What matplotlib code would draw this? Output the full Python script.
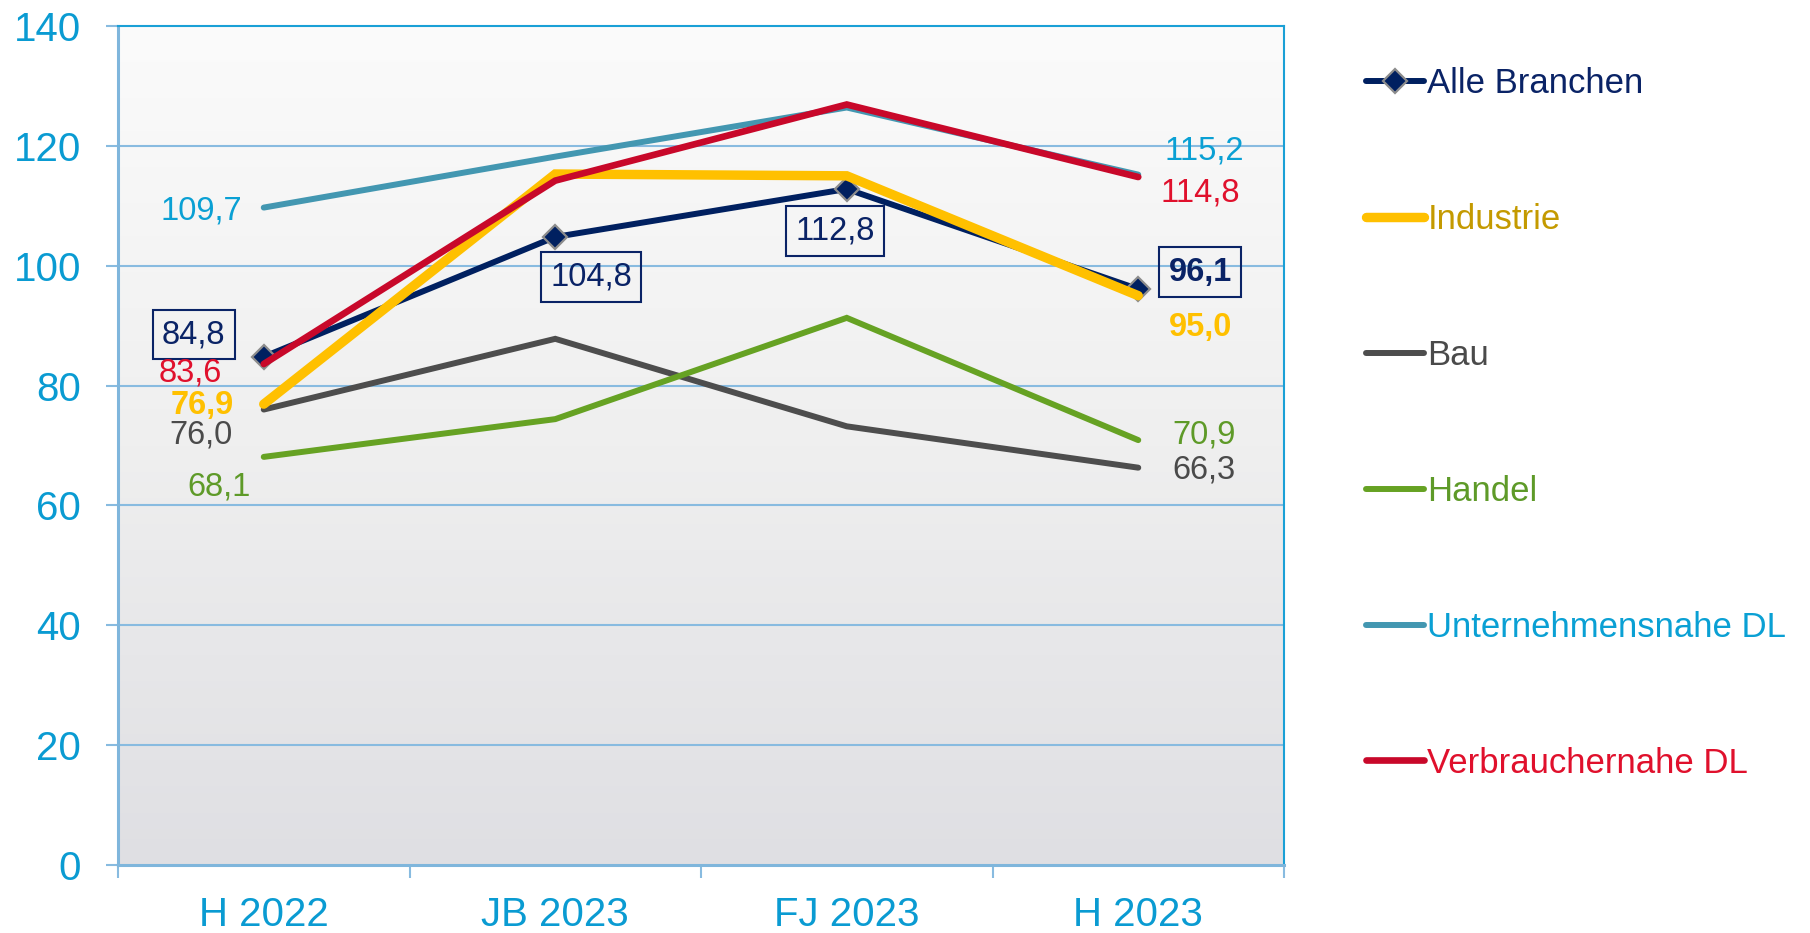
import numpy as np
import matplotlib
matplotlib.use("Agg")
import matplotlib.pyplot as plt
from matplotlib.colors import LinearSegmentedColormap

plt.rcParams['font.family'] = ['Liberation Sans', 'DejaVu Sans']

categories = ["H 2022", "JB 2023", "FJ 2023", "H 2023"]
series_names = ["Alle Branchen", "Industrie", "Bau", "Handel",
                "Unternehmensnahe DL", "Verbrauchernahe DL"]
alle_branchen = [84.8, 104.8, 112.8, 96.1]
industrie = [76.9, 115.3, 115.0, 95.0]
bau = [76.0, 87.8, 73.2, 66.3]
handel = [68.1, 74.4, 91.3, 70.9]
unternehmensnahe = [109.7, 118.2, 126.4, 115.2]
verbrauchernahe = [83.6, 114.2, 126.9, 114.8]
y_ticks = [0, 20, 40, 60, 80, 100, 120, 140]

line_colors = {
    "Alle Branchen": "#002060",
    "Industrie": "#FFC000",
    "Bau": "#4D4D4D",
    "Handel": "#66A223",
    "Unternehmensnahe DL": "#4397B1",
    "Verbrauchernahe DL": "#C8082A",
}
text_colors = {
    "Alle Branchen": "#0A2366",
    "Industrie": "#C49A00",
    "Bau": "#4A4A4A",
    "Handel": "#5E9A28",
    "Unternehmensnahe DL": "#0AA0D4",
    "Verbrauchernahe DL": "#E0102C",
}
label_colors = {
    "Alle Branchen": "#0A2366",
    "Industrie": "#FFC000",
    "Bau": "#4A4A4A",
    "Handel": "#5E9A28",
    "Unternehmensnahe DL": "#0AA0D4",
    "Verbrauchernahe DL": "#E0102C",
}
widths = {
    "Alle Branchen": 4.3,
    "Industrie": 6.8,
    "Bau": 4.3,
    "Handel": 4.3,
    "Unternehmensnahe DL": 4.3,
    "Verbrauchernahe DL": 4.8,
}
data = {
    "Alle Branchen": alle_branchen,
    "Industrie": industrie,
    "Bau": bau,
    "Handel": handel,
    "Unternehmensnahe DL": unternehmensnahe,
    "Verbrauchernahe DL": verbrauchernahe,
}

W, H = 1810, 933
fig = plt.figure(figsize=(W / 100, H / 100), dpi=100)
ax = fig.add_axes([118 / W, (H - 865) / H, (1284 - 118) / W, (865 - 26) / H])

x = np.arange(len(categories))

# gradient background (dark at bottom, light at top)
cmap = LinearSegmentedColormap.from_list("bg", ["#DFDFE3", "#EFEFEF", "#FBFBFB"])
grad = np.linspace(0, 1, 256).reshape(-1, 1)
ax.imshow(grad, extent=[-0.5, len(categories) - 0.5, 0, 140], aspect='auto',
          origin='lower', cmap=cmap, zorder=0)
ax.set_xlim(-0.5, len(categories) - 0.5)
ax.set_ylim(0, 140)

# grid
for yv in y_ticks[1:-1]:
    ax.axhline(yv, color="#88BBE0", lw=1.5, zorder=1)

draw_order = ["Bau", "Handel", "Unternehmensnahe DL", "Alle Branchen",
              "Industrie", "Verbrauchernahe DL"]
handles = {}
for name in draw_order:
    kw = {}
    if name == "Alle Branchen":
        kw = dict(marker="D", markersize=12, markerfacecolor="#002060",
                  markeredgecolor="#8C8C8C", markeredgewidth=1.6)
    ln, = ax.plot(x, data[name], color=line_colors[name], lw=widths[name],
                  solid_capstyle="round", solid_joinstyle="miter", zorder=3, **kw)
    handles[name] = ln

# data labels: (series, index, dx px, dy px, bold, boxed)
labels = [
    ("Unternehmensnahe DL", 0, -62, -3, False, False),
    ("Alle Branchen", 0, -70, 22, False, True),
    ("Verbrauchernahe DL", 0, -74, -9, False, False),
    ("Industrie", 0, -62, -1, True, False),
    ("Bau", 0, -63, -25, False, False),
    ("Handel", 0, -45, -30, False, False),
    ("Alle Branchen", 1, 36, -40, False, True),
    ("Alle Branchen", 2, -12, -42, False, True),
    ("Unternehmensnahe DL", 3, 66, 24, False, False),
    ("Verbrauchernahe DL", 3, 62, -16, False, False),
    ("Alle Branchen", 3, 62, 17, True, True),
    ("Industrie", 3, 62, -32, True, False),
    ("Handel", 3, 66, 5, False, False),
    ("Bau", 3, 66, -2, False, False),
]
for name, i, dx, dy, bold, boxed in labels:
    v = data[name][i]
    txt = f"{v:.1f}".replace(".", ",")
    bbox = None
    if boxed:
        bbox = dict(boxstyle="square,pad=0.28", facecolor="none",
                    edgecolor="#0A2366", lw=1.5)
    ax.annotate(txt, (x[i], v), xytext=(dx, dy), textcoords="offset pixels",
                ha="center", va="center", fontsize=23.5,
                fontweight="bold" if bold else "normal",
                color=label_colors[name], bbox=bbox, zorder=5)

# spines
for s in ["top", "right"]:
    ax.spines[s].set_color("#1AA0D6")
    ax.spines[s].set_linewidth(1.5)
for s in ["left", "bottom"]:
    ax.spines[s].set_color("#7FB6DC")
    ax.spines[s].set_linewidth(2.2)
for s in ax.spines.values():
    s.set_zorder(6)

ax.set_yticks(y_ticks)
ax.set_yticklabels([str(t) for t in y_ticks])
ax.tick_params(axis="y", length=8.6, width=1.5, color="#88BBE0",
               labelcolor="#0A9BD2", labelsize=29, pad=18)
ax.set_xticks(x)
ax.set_xticklabels(categories)
ax.tick_params(axis="x", which="major", length=0, labelcolor="#0A9BD2",
               labelsize=29, pad=22)
ax.set_xticks(np.arange(-0.5, len(categories)), minor=True)
ax.tick_params(axis="x", which="minor", length=9, width=1.5, color="#88BBE0")

# legend
leg = fig.legend([handles[n] for n in series_names], series_names,
                 loc="upper left", bbox_to_anchor=(1352 / W, 1 - 53 / H),
                 frameon=False, fontsize=25, handlelength=1.67,
                 handletextpad=0.1, labelspacing=2.965, borderaxespad=0)
for t, n in zip(leg.get_texts(), series_names):
    t.set_color(text_colors[n])

fig.savefig("out.png", dpi=100)
